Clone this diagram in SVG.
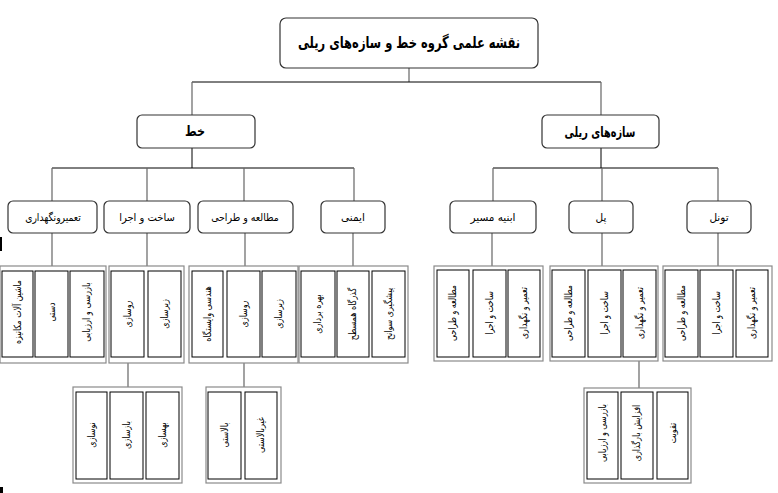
<svg xmlns="http://www.w3.org/2000/svg" width="778" height="493" viewBox="0 0 778 493">
<style>
.bg{fill:#fff}
.rb{fill:#fff;stroke:#333;stroke-width:1.2}
.fr{fill:#fff;stroke:#8a8a8a;stroke-width:1.2}
.ib{fill:#fff;stroke:#000;stroke-width:1}
.ln{stroke:#000;stroke-width:1;fill:none}
.lg{stroke:#666;stroke-width:1.2;fill:none}
.t1{font-family:"DejaVu Sans",sans-serif;font-weight:bold;font-size:16px;fill:#000;text-anchor:middle}
.t2{font-family:"DejaVu Sans",sans-serif;font-weight:bold;font-size:14px;fill:#000;text-anchor:middle}
.t3{font-family:"DejaVu Sans",sans-serif;font-size:10.5px;fill:#000;text-anchor:middle}
.tv{font-family:"DejaVu Sans",sans-serif;font-size:10px;fill:#000;text-anchor:middle}
</style>
<rect class="bg" x="0" y="0" width="778" height="493"/>
<g id="connectors">
<path class="lg" d="M409 68V82"/>
<path class="ln" d="M192 82H601"/>
<path class="lg" d="M192 82V115M601 82V115"/>
<path class="ln" d="M192 148V168M52 168H354M601 148V168M493 168H718"/>
<path class="lg" d="M52 168V201M147 168V201M244 168V201M354 168V201M493 168V201M602 168V201M718 168V201"/>
<path class="lg" d="M52 233V266M147 233V266M245 233V266M353 233V266M492 233V266M602 233V266M718 233V266"/>
<path class="lg" d="M128 363V387M244 363V387M639 361V388"/>
</g>
<g id="title">
<rect class="rb" x="280" y="18" width="258" height="50" rx="6"/>
<text class="t1" transform="translate(409 48) scale(0.72 1)">نقشه علمی گروه خط و سازه‌های ریلی</text>
</g>
<g id="khat">
<rect class="rb" x="137" y="115" width="118" height="33" rx="5"/>
<text class="t2" transform="translate(195 136) scale(0.8 1)">خط</text>
</g>
<g id="sazeh">
<rect class="rb" x="542" y="115" width="117" height="33" rx="5"/>
<text class="t2" transform="translate(600 137) scale(0.7 1)">سازه‌های ریلی</text>
</g>
<g id="tamir">
<rect class="rb" x="8" y="201" width="89" height="32" rx="5"/>
<text class="t3" transform="translate(53 221) scale(0.88 1)">تعمیرونگهداری</text>
</g>
<g id="sakht">
<rect class="rb" x="104" y="201" width="86" height="32" rx="5"/>
<text class="t3" transform="translate(147 221) scale(0.95 1)">ساخت و اجرا</text>
</g>
<g id="motaleh">
<rect class="rb" x="198" y="201" width="95" height="32" rx="5"/>
<text class="t3" transform="translate(245 221) scale(0.9 1)">مطالعه و طراحی</text>
</g>
<g id="imeni">
<rect class="rb" x="321" y="201" width="64" height="32" rx="5"/>
<text class="t3" x="353" y="221">ایمنی</text>
</g>
<g id="abnieh">
<rect class="rb" x="450" y="201" width="86" height="32" rx="5"/>
<text class="t3" x="493" y="221">ابنیه مسیر</text>
</g>
<g id="pol">
<rect class="rb" x="569" y="201" width="64" height="32" rx="5"/>
<text class="t3" x="601" y="221">پل</text>
</g>
<g id="tunnel">
<rect class="rb" x="687" y="201" width="64" height="32" rx="5"/>
<text class="t3" x="719" y="221">تونل</text>
</g>
<g id="tamir-children">
<rect class="fr" x="0" y="266" width="106" height="97"/>
<rect class="ib" x="2" y="271" width="31" height="86"/>
<rect class="ib" x="35" y="271" width="33" height="86"/>
<rect class="ib" x="70" y="271" width="34" height="86"/>
<text class="tv" transform="translate(21 312) rotate(-90) scale(0.78 1)">ماشین آلات مکانیزه</text>
<text class="tv" transform="translate(55 312) rotate(-90) scale(0.78 1)">دستی</text>
<text class="tv" transform="translate(90 312) rotate(-90) scale(0.82 1)">بازرسی و ارزیابی</text>
</g>
<g id="sakht-children">
<rect class="fr" x="109" y="266" width="75" height="97"/>
<rect class="ib" x="111" y="271" width="33" height="86"/>
<rect class="ib" x="148" y="271" width="33" height="86"/>
<text class="tv" transform="translate(131 314) rotate(-90) scale(0.8 1)">روسازی</text>
<text class="tv" transform="translate(168 314) rotate(-90) scale(0.8 1)">زیرسازی</text>
</g>
<g id="motaleh-children">
<rect class="fr" x="189" y="266" width="109" height="97"/>
<rect class="ib" x="192" y="271" width="31" height="86"/>
<rect class="ib" x="227" y="271" width="33" height="86"/>
<rect class="ib" x="262" y="271" width="34" height="86"/>
<text class="tv" transform="translate(211 314) rotate(-90) scale(0.8 1)">هندسی وایستگاه</text>
<text class="tv" transform="translate(247 314) rotate(-90) scale(0.8 1)">روسازی</text>
<text class="tv" transform="translate(282 314) rotate(-90) scale(0.8 1)">زیرسازی</text>
</g>
<g id="imeni-children">
<rect class="fr" x="299" y="266" width="109" height="97"/>
<rect class="ib" x="301" y="271" width="34" height="86"/>
<rect class="ib" x="337" y="271" width="32" height="86"/>
<rect class="ib" x="372" y="271" width="33" height="86"/>
<text class="tv" transform="translate(321 314) rotate(-90) scale(0.8 1)">بهره برداری</text>
<text class="tv" transform="translate(356 314) rotate(-90) scale(0.8 1)">گذرگاه همسطح</text>
<text class="tv" transform="translate(392 314) rotate(-90) scale(0.8 1)">پیشگیری سوانح</text>
</g>
<g id="abnieh-children">
<rect class="fr" x="434" y="266" width="109" height="95"/>
<rect class="ib" x="437" y="270" width="32" height="87"/>
<rect class="ib" x="473" y="270" width="33" height="87"/>
<rect class="ib" x="508" y="270" width="32" height="87"/>
<text class="tv" transform="translate(456 313) rotate(-90) scale(0.78 1)">مطالعه و طراحی</text>
<text class="tv" transform="translate(493 313) rotate(-90) scale(0.78 1)">ساخت و اجرا</text>
<text class="tv" transform="translate(527 313) rotate(-90) scale(0.78 1)">تعمیر و نگهداری</text>
</g>
<g id="pol-children">
<rect class="fr" x="550" y="266" width="108" height="95"/>
<rect class="ib" x="552" y="270" width="33" height="87"/>
<rect class="ib" x="588" y="270" width="33" height="87"/>
<rect class="ib" x="623" y="270" width="33" height="87"/>
<text class="tv" transform="translate(572 313) rotate(-90) scale(0.78 1)">مطالعه و طراحی</text>
<text class="tv" transform="translate(608 313) rotate(-90) scale(0.78 1)">ساخت و اجرا</text>
<text class="tv" transform="translate(643 313) rotate(-90) scale(0.78 1)">تعمیر و نگهداری</text>
</g>
<g id="tunnel-children">
<rect class="fr" x="663" y="266" width="109" height="95"/>
<rect class="ib" x="665" y="270" width="33" height="87"/>
<rect class="ib" x="700" y="270" width="33" height="87"/>
<rect class="ib" x="736" y="270" width="32" height="87"/>
<text class="tv" transform="translate(685 313) rotate(-90) scale(0.78 1)">مطالعه و طراحی</text>
<text class="tv" transform="translate(720 313) rotate(-90) scale(0.78 1)">ساخت و اجرا</text>
<text class="tv" transform="translate(755 313) rotate(-90) scale(0.78 1)">تعمیر و نگهداری</text>
</g>
<g id="rosazi-children">
<rect class="fr" x="73" y="387" width="109" height="96"/>
<rect class="ib" x="76" y="392" width="31" height="87"/>
<rect class="ib" x="110" y="392" width="33" height="87"/>
<rect class="ib" x="146" y="392" width="33" height="87"/>
<text class="tv" transform="translate(95 435) rotate(-90) scale(0.8 1)">نوسازی</text>
<text class="tv" transform="translate(130 435) rotate(-90) scale(0.8 1)">بازسازی</text>
<text class="tv" transform="translate(166 435) rotate(-90) scale(0.8 1)">بهسازی</text>
</g>
<g id="rosazi2-children">
<rect class="fr" x="206" y="387" width="75" height="96"/>
<rect class="ib" x="208" y="392" width="33" height="87"/>
<rect class="ib" x="245" y="392" width="32" height="87"/>
<text class="tv" transform="translate(228 435) rotate(-90) scale(0.8 1)">بالاستی</text>
<text class="tv" transform="translate(264 435) rotate(-90) scale(0.8 1)">غیربالاستی</text>
</g>
<g id="pol-tamir-children">
<rect class="fr" x="584" y="388" width="107" height="95"/>
<rect class="ib" x="587" y="392" width="31" height="87"/>
<rect class="ib" x="621" y="392" width="32" height="87"/>
<rect class="ib" x="657" y="392" width="31" height="87"/>
<text class="tv" transform="translate(606 433) rotate(-90) scale(0.8 1)">بازرسی و ارزیابی</text>
<text class="tv" transform="translate(640 433) rotate(-90) scale(0.8 1)">افزایش بارگذاری</text>
<text class="tv" transform="translate(676 433) rotate(-90) scale(0.8 1)">تقویت</text>
</g>
<rect x="0" y="237" width="2" height="14" fill="#000"/>
<rect x="0" y="487" width="3" height="6" fill="#000"/>
</svg>
